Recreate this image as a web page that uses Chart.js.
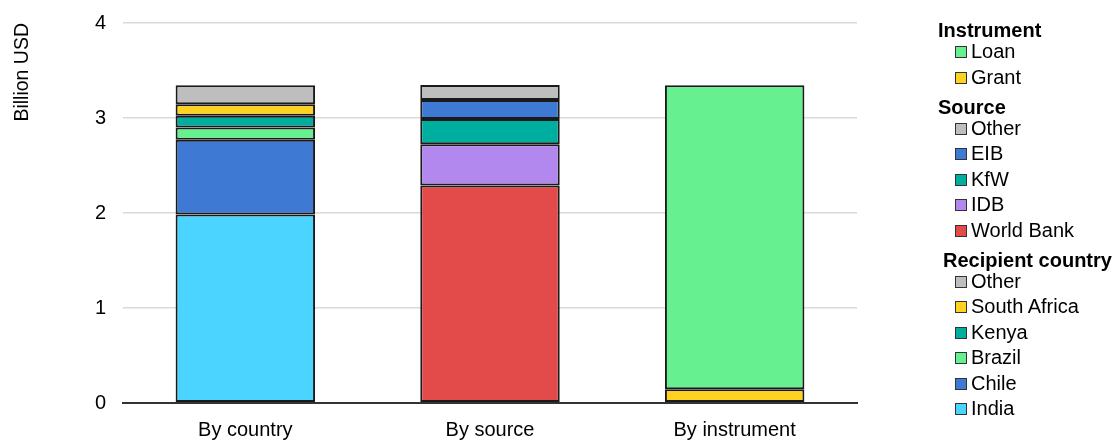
<!DOCTYPE html>
<html>
<head>
<meta charset="utf-8">
<script src="https://cdn.jsdelivr.net/npm/chart.js@4"></script>
<style>
  body { margin: 0; background: #fff; font-family: "Liberation Sans", Arial, sans-serif; }
  #wrap { position: relative; width: 1115px; height: 440px; }
  #legend { position: absolute; left: 938px; top: 22px; color: #000; }
  .hdr { font-weight: bold; font-size: 20px; line-height: 17px; }
  .grp + .grp { margin-top: 8.6px; }
  .item { font-size: 20px; line-height: 25.5px; padding-left: 17px; white-space: nowrap; }
  .box { display: inline-block; width: 10px; height: 10px; border: 1px solid #333; margin-right: 4px; vertical-align: 0px; }
</style>
</head>
<body>
<div id="wrap">
  <canvas id="chart" width="1115" height="440"></canvas>
  <div id="legend"></div>
</div>
<script>
var categories = ['By country', 'By source', 'By instrument'];

// Recipient country (By country bar), bottom to top
var countryNames = ['India', 'Chile', 'Brazil', 'Kenya', 'South Africa', 'Other'];
var countryValues = [1.985, 0.785, 0.13, 0.125, 0.12, 0.20];
var countryColors = ['#4AD4FF', '#3E7AD3', '#66F08F', '#00AE9F', '#FFD21F', '#BEBEBE'];

// Source (By source bar), bottom to top
var sourceNames = ['World Bank', 'IDB', 'KfW', 'EIB', 'Other'];
var sourceValues = [2.29, 0.435, 0.265, 0.20, 0.157];
var sourceColors = ['#E34A4A', '#B388EE', '#00AE9F', '#3E7AD3', '#BEBEBE'];

// Instrument (By instrument bar), bottom to top
var instrumentNames = ['Grant', 'Loan'];
var instrumentValues = [0.145, 3.20];
var instrumentColors = ['#FFD21F', '#66F08F'];

var yTicks = [0, 1, 2, 3, 4];

var datasets = [];
function addGroup(names, values, colors, idx) {
    names.forEach(function(n, i) {
        var d = [null, null, null];
        d[idx] = values[i];
        datasets.push({
            label: n,
            data: d,
            backgroundColor: colors[i],
            borderColor: '#1a1a1a',
            borderWidth: 2,
            borderSkipped: false,
            stack: 's',
            categoryPercentage: 1,
            barPercentage: 0.57
        });
    });
}
addGroup(countryNames, countryValues, countryColors, 0);
addGroup(sourceNames, sourceValues, sourceColors, 1);
addGroup(instrumentNames, instrumentValues, instrumentColors, 2);

var ctx = document.getElementById('chart');
var chart = new Chart(ctx, {
    type: 'bar',
    data: { labels: categories, datasets: datasets },
    options: {
        responsive: false,
        animation: false,
        layout: { padding: { left: 0, right: 258, top: 23, bottom: 0 } },
        plugins: {
            legend: { display: false },
            tooltip: { enabled: false }
        },
        scales: {
            x: {
                stacked: true,
                afterFit: function(axis) { axis.height = 37; },
                grid: { display: false, drawTicks: false },
                border: { display: true, color: '#333', width: 2 },
                ticks: { color: '#000', padding: 15, font: { family: 'Liberation Sans', size: 20 } }
            },
            y: {
                stacked: true,
                min: 0,
                max: 4,
                afterFit: function(axis) {
                    axis.width = 123;
                    axis.paddingTop = 0;
                    axis.paddingBottom = 0;
                },
                afterBuildTicks: function(axis) {
                    axis.ticks = yTicks.map(function(v) { return { value: v }; });
                },
                grid: {
                    drawTicks: false,
                    color: function(c) { return c.tick && c.tick.value === 0 ? '#333' : '#D9D9D9'; },
                    lineWidth: function(c) { return c.tick && c.tick.value === 0 ? 2 : 1.5; }
                },
                border: { display: false },
                ticks: { color: '#000', padding: 17, font: { family: 'Liberation Sans', size: 20 } },
                title: {
                    display: true,
                    text: 'Billion USD',
                    align: 'end',
                    color: '#000',
                    font: { family: 'Liberation Sans', size: 19.5 },
                    padding: { top: 11, bottom: 44 }
                }
            }
        }
    }
});

// legend, grouped like the original
var groups = [
    { title: 'Instrument', names: instrumentNames.slice().reverse(), colors: instrumentColors.slice().reverse() },
    { title: 'Source', names: sourceNames.slice().reverse(), colors: sourceColors.slice().reverse() },
    { title: 'Recipient country', names: countryNames.slice().reverse(), colors: countryColors.slice().reverse() }
];
var html = '';
groups.forEach(function(g, gi) {
    var extra = gi === 2 ? ' style="padding-left:5px"' : '';
    html += '<div class="grp"><div class="hdr"' + extra + '>' + g.title + '</div>';
    g.names.forEach(function(n, i) {
        html += '<div class="item"><span class="box" style="background:' + g.colors[i] + '"></span>' + n + '</div>';
    });
    html += '</div>';
});
document.getElementById('legend').innerHTML = html;
</script>
</body>
</html>
